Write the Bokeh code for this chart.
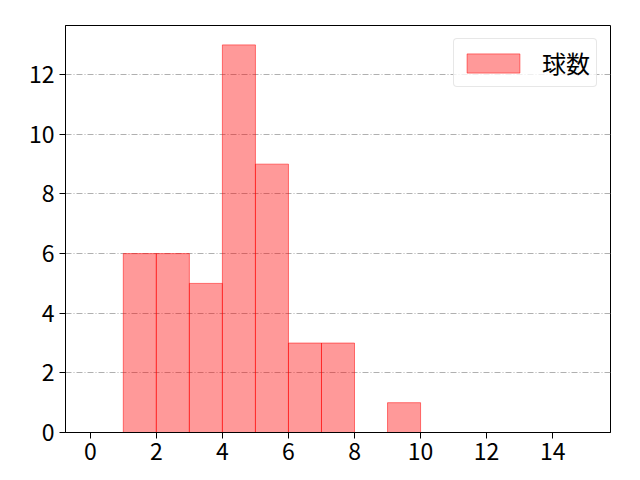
from bokeh.plotting import figure
from bokeh.models import Range1d, FixedTicker, Legend, LegendItem
from bokeh.embed import file_html
from bokeh.resources import INLINE

# Histogram bins (left edges, width 1) and counts
bin_left = [1, 2, 3, 4, 5, 6, 7, 9]
counts = [6, 6, 5, 13, 9, 3, 3, 1]
bin_width = 1
x_ticks = [0, 2, 4, 6, 8, 10, 12, 14]
y_ticks = [0, 2, 4, 6, 8, 10, 12]
series_label = "球数"

FONT = "Noto Sans CJK JP"

p = figure(width=640, height=480, output_backend="svg", toolbar_location=None,
           x_range=Range1d(-0.75, 15.75), y_range=Range1d(0, 13.65),
           min_border_left=65, min_border_right=30, min_border_top=25, min_border_bottom=48)

p.background_fill_color = "white"
p.border_fill_color = "white"
p.outline_line_color = "black"
p.outline_line_width = 1

rights = [l + bin_width for l in bin_left]
bottoms = [0] * len(counts)
r = p.quad(left=bin_left, right=rights, bottom=bottoms, top=counts,
           fill_color="red", fill_alpha=0.4, line_color="red", line_alpha=0.5, line_width=1)

p.xgrid.visible = False
p.ygrid.grid_line_color = "#b0b0b0"
p.ygrid.grid_line_dash = "6 2 1 2"
p.ygrid.grid_line_width = 1
p.ygrid.level = "underlay"

for ax, ticks in ((p.xaxis, x_ticks), (p.yaxis, y_ticks)):
    ax.ticker = FixedTicker(ticks=ticks)
    ax.minor_tick_line_color = None
    ax.major_tick_in = 0
    ax.major_tick_out = 6
    ax.major_tick_line_color = "black"
    ax.axis_line_color = "black"
    ax.major_label_text_font = FONT
    ax.major_label_text_font_size = "23px"
    ax.major_label_text_color = "black"
p.xaxis.major_label_standoff = 4
p.yaxis.major_label_standoff = 5

legend = Legend(items=[LegendItem(label=series_label, renderers=[r])],
                location="top_right")
legend.label_text_font = FONT
legend.label_text_font_size = "24px"
legend.label_text_color = "black"
legend.glyph_width = 66
legend.glyph_height = 24
legend.label_standoff = 16
legend.padding = 6
legend.margin = 13
legend.border_line_color = "#d0d0d0"
legend.border_line_width = 1
legend.border_radius = 4
legend.background_fill_alpha = 0.8
p.add_layout(legend)

open("out.html", "w").write(file_html(p, INLINE))
